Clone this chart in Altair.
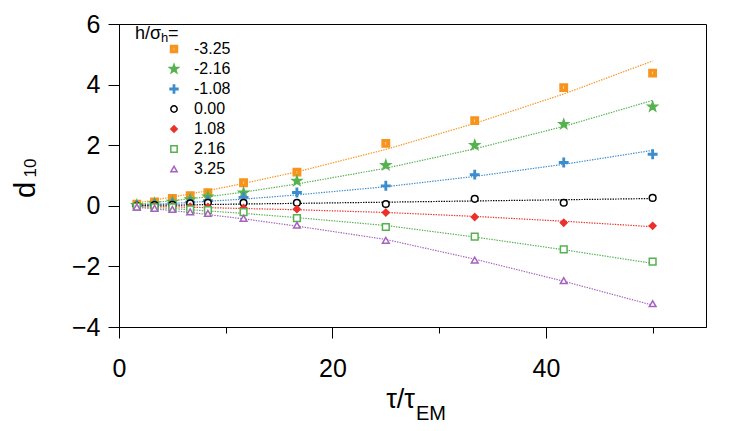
import altair as alt
import pandas as pd

# ---- data ----
tau = [1.67, 3.33, 5.0, 6.67, 8.33, 11.67, 16.67, 25.0, 33.33, 41.67, 50.0]
h_labels = ["-3.25", "-2.16", "-1.08", "0.00", "1.08", "2.16", "3.25"]

pts_m325 = [0.05, 0.13, 0.24, 0.33, 0.43, 0.76, 1.11, 2.06, 2.81, 3.90, 4.38]
pts_m216 = [0.02, 0.08, 0.13, 0.21, 0.30, 0.43, 0.82, 1.34, 2.00, 2.69, 3.27]
pts_m108 = [0.01, 0.04, 0.07, 0.12, 0.17, 0.28, 0.44, 0.66, 1.03, 1.43, 1.70]
pts_000 = [0.00, 0.02, 0.03, 0.08, 0.10, 0.10, 0.10, 0.06, 0.23, 0.10, 0.26]
pts_p108 = [-0.01, -0.01, -0.02, -0.03, -0.04, -0.07, -0.11, -0.22, -0.37, -0.56, -0.66]
pts_p216 = [-0.03, -0.05, -0.05, -0.12, -0.14, -0.21, -0.41, -0.70, -1.02, -1.44, -1.84]
pts_p325 = [-0.04, -0.08, -0.12, -0.20, -0.25, -0.41, -0.64, -1.14, -1.79, -2.47, -3.23]

fit_m325 = [0.09, 0.19, 0.29, 0.39, 0.50, 0.74, 1.12, 1.86, 2.72, 3.69, 4.78]
fit_m216 = [0.05, 0.11, 0.17, 0.23, 0.30, 0.45, 0.72, 1.24, 1.88, 2.62, 3.48]
fit_m108 = [0.02, 0.05, 0.08, 0.11, 0.15, 0.22, 0.36, 0.63, 0.97, 1.37, 1.83]
fit_000 = [0.01, 0.02, 0.02, 0.03, 0.04, 0.06, 0.08, 0.12, 0.16, 0.20, 0.24]
fit_p108 = [-0.01, -0.02, -0.03, -0.05, -0.06, -0.09, -0.13, -0.22, -0.35, -0.51, -0.69]
fit_p216 = [-0.03, -0.06, -0.09, -0.13, -0.17, -0.25, -0.39, -0.65, -1.03, -1.45, -1.90]
fit_p325 = [-0.05, -0.10, -0.16, -0.22, -0.29, -0.43, -0.67, -1.11, -1.76, -2.49, -3.28]

pts_all = [pts_m325, pts_m216, pts_m108, pts_000, pts_p108, pts_p216, pts_p325]
fit_all = [fit_m325, fit_m216, fit_m108, fit_000, fit_p108, fit_p216, fit_p325]

rows_p, rows_f = [], []
for k, (h, ps, fs) in enumerate(zip(h_labels, pts_all, fit_all)):
    for t, p, f in zip(tau, ps, fs):
        rows_p.append({"tau": t, "d": p, "h": h, "k": k})
        rows_f.append({"tau": t, "d": f, "h": h, "k": k})
df_p = pd.DataFrame(rows_p)
df_f = pd.DataFrame(rows_f)

# ---- styles ----
colors = ["#f7941d", "#55b24f", "#3d8ccb", "#000000", "#e8322b", "#55b24f", "#a563bd"]
fills = ["#f7941d", "#55b24f", "#3d8ccb", "white", "#e8322b", "white", "white"]
sq_bar = "M-1.1,-1.1L1.1,-1.1L1.1,1.1L-1.1,1.1Z M-0.3,-0.6L-0.3,0.6L0.3,0.6L0.3,-0.6Z"
star = ("M0,-1.45L0.34,-0.47L1.38,-0.45L0.55,0.18L0.85,1.17L0,0.58L-0.85,1.17"
        "L-0.55,0.18L-1.38,-0.45L-0.34,-0.47Z")
plus = ("M-1.25,-0.2L-0.2,-0.2L-0.2,-1.25L0.2,-1.25L0.2,-0.2L1.25,-0.2L1.25,0.2"
        "L0.2,0.2L0.2,1.25L-0.2,1.25L-0.2,0.2L-1.25,0.2Z")
shapes = [sq_bar, star, plus, "circle", "diamond", "square", "triangle-up"]

FONT = "Liberation Sans"
W, H = 587, 303

xscale = alt.Scale(domain=[0, 55], nice=False, zero=False)
yscale = alt.Scale(domain=[-4, 6], nice=False, zero=False)

xaxis = alt.Axis(
    values=[0, 10, 20, 30, 40, 50],
    labelExpr="datum.value % 20 === 0 ? datum.label : ''",
    tickSize={"condition": {"test": "datum.value % 20 !== 0", "value": 6}, "value": 11},
    title=None, grid=False, labelFontSize=25, labelFont=FONT, labelColor="black",
    labelPadding=18, domainColor="black", tickColor="black", labelFlush=False,
)
yaxis = alt.Axis(
    values=[-4, -3, -2, -1, 0, 1, 2, 3, 4, 5, 6],
    labelExpr="datum.value % 2 === 0 ? datum.label : ''",
    tickSize={"condition": {"test": "datum.value % 2 !== 0", "value": 6}, "value": 11},
    title=None, grid=False, labelFontSize=25, labelFont=FONT, labelColor="black",
    labelPadding=8, domainColor="black", tickColor="black", labelFlush=False,
)

lines = alt.Chart(df_f).mark_line(strokeWidth=1.2, strokeDash=[1.4, 1.2]).encode(
    x=alt.X("tau:Q", scale=xscale, axis=xaxis),
    y=alt.Y("d:Q", scale=yscale, axis=yaxis),
    color=alt.Color("h:N", scale=alt.Scale(domain=h_labels, range=colors), legend=None),
    detail="h:N",
)

leg = alt.Legend(
    title=None, orient="none", legendX=47, legendY=17, padding=0,
    labelFontSize=16, labelFont=FONT, labelColor="black", labelOffset=12,
    rowPadding=4, symbolSize=40, symbolStrokeWidth=1.5,
)
points = alt.Chart(df_p).mark_point(size=45, strokeWidth=1.5, opacity=1).encode(
    x=alt.X("tau:Q", scale=xscale),
    y=alt.Y("d:Q", scale=yscale),
    stroke=alt.Stroke("h:N", scale=alt.Scale(domain=h_labels, range=colors), legend=leg, sort=h_labels),
    fill=alt.Fill("h:N", scale=alt.Scale(domain=h_labels, range=fills), legend=leg, sort=h_labels),
    shape=alt.Shape("h:N", scale=alt.Scale(domain=h_labels, range=shapes), legend=leg, sort=h_labels),
    order=alt.Order("k:Q"),
)

def txt(s, x, y, size, angle=0, align="left", baseline="alphabetic"):
    return alt.Chart(pd.DataFrame({"t": [s]})).mark_text(
        font=FONT, fontSize=size, angle=angle, align=align, baseline=baseline, color="black"
    ).encode(text="t:N", x=alt.value(x), y=alt.value(y))

titles = [
    txt("τ/τ", 296, 384, 27, align="right"),
    txt("EM", 297, 396, 20),
    txt("d", -84, 166, 29, angle=270, align="center"),
    txt("10", -83, 144, 17, angle=270, align="center"),
    txt("h/σ", 16, 15, 18),
    txt("h", 42, 18, 13),
    txt("=", 49, 15, 18),
]

chart = alt.layer(lines, points, *titles).resolve_scale(
    color="independent"
).properties(
    width=W, height=H,
    autosize=alt.AutoSizeParams(type="none"),
    padding={"left": 111, "top": 16, "right": 25, "bottom": 100},
).configure_view(stroke="black", strokeWidth=1).configure_axis(
    domainWidth=1, tickWidth=1
)

chart.save("out.html", embed_options={"renderer": "svg", "actions": False})
